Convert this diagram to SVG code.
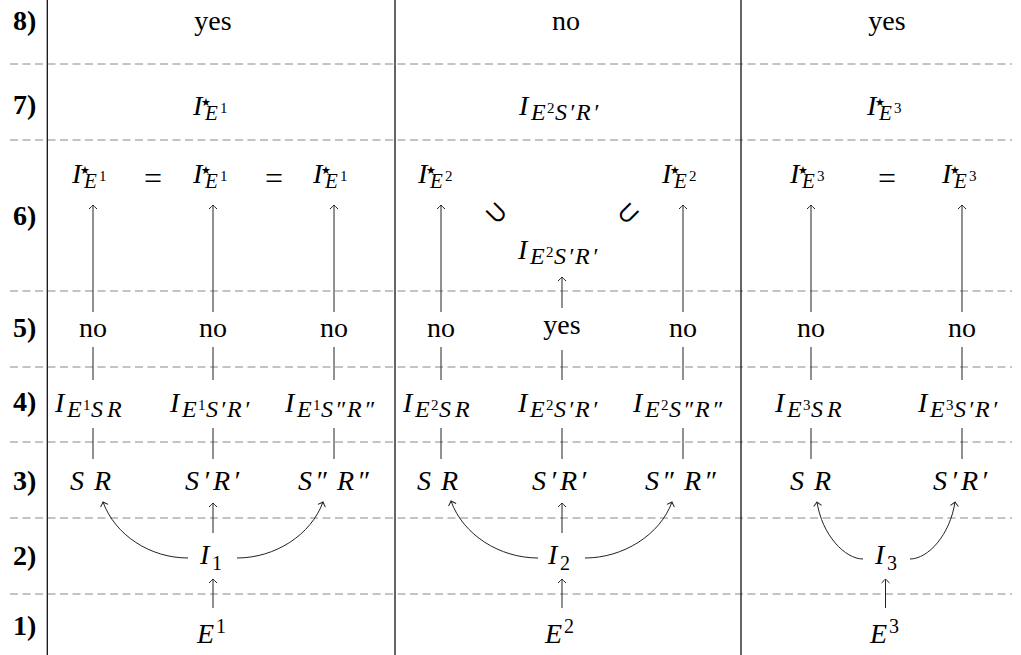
<svg xmlns="http://www.w3.org/2000/svg" width="1021" height="655" viewBox="0 0 1021 655">
<style>
.lbl{font-family:"Liberation Serif",serif;font-weight:bold;font-size:28px}
.t{font-family:"Liberation Serif",serif;font-size:28px;text-anchor:middle}
.m{font-family:"Liberation Serif",serif;font-style:italic;font-size:28px}
.s{font-size:24px}
.s2{font-size:21px}
.ss{font-size:15px;font-style:normal}
.sp{font-size:20px;font-style:normal}
.st{font-family:"DejaVu Sans",sans-serif;font-style:normal;font-size:11px}
.eq{font-family:"Liberation Serif",serif;font-size:32px;text-anchor:middle}
.sub{font-family:"DejaVu Sans",sans-serif;font-weight:200;font-size:28px;text-anchor:middle;dominant-baseline:central}
.grid{stroke:#888;stroke-width:1;stroke-dasharray:8 4.5;fill:none}
.col{stroke:#111;stroke-width:1.3;fill:none}
.c{stroke:#222;stroke-width:1;fill:none}
.a{stroke:#222;stroke-width:1;fill:none;marker-end:url(#tip)}
</style>
<defs>
<marker id="tip" markerUnits="userSpaceOnUse" markerWidth="12" markerHeight="12" viewBox="-6 -6 12 12" refX="0" refY="0" orient="auto">
<path d="M-4,-4 Q-1.2,-1 0,0 Q-1.2,1 -4,4" fill="none" stroke="#222" stroke-width="1"/>
</marker>
</defs>
<rect width="1021" height="655" fill="#fff"/>
<g id="grid">
<line class="grid" x1="10" y1="64" x2="1012" y2="64"/>
<line class="grid" x1="10" y1="140" x2="1012" y2="140"/>
<line class="grid" x1="10" y1="291" x2="1012" y2="291"/>
<line class="grid" x1="10" y1="367" x2="1012" y2="367"/>
<line class="grid" x1="10" y1="442" x2="1012" y2="442"/>
<line class="grid" x1="10" y1="518" x2="1012" y2="518"/>
<line class="grid" x1="10" y1="594" x2="1012" y2="594"/>
<line class="col" x1="47.3" y1="0" x2="47.3" y2="655"/>
<line class="col" x1="395" y1="0" x2="395" y2="655"/>
<line class="col" x1="741" y1="0" x2="741" y2="655"/>
</g>
<g id="row-labels">
<text class="lbl" x="13" y="30">8)</text>
<text class="lbl" x="13" y="114">7)</text>
<text class="lbl" x="13" y="225">6)</text>
<text class="lbl" x="13" y="337">5)</text>
<text class="lbl" x="13" y="411">4)</text>
<text class="lbl" x="13" y="490">3)</text>
<text class="lbl" x="13" y="565">2)</text>
<text class="lbl" x="13" y="635">1)</text>
</g>
<g id="connectors">
<line class="a" x1="93" y1="312" x2="93" y2="205"/>
<line class="a" x1="213" y1="312" x2="213" y2="205"/>
<line class="a" x1="334" y1="312" x2="334" y2="205"/>
<line class="a" x1="441" y1="312" x2="441" y2="205"/>
<line class="a" x1="562" y1="308" x2="562" y2="277"/>
<line class="a" x1="683" y1="312" x2="683" y2="205"/>
<line class="a" x1="811" y1="312" x2="811" y2="205"/>
<line class="a" x1="962" y1="312" x2="962" y2="205"/>
<line class="c" x1="93" y1="347" x2="93" y2="380"/>
<line class="c" x1="213" y1="347" x2="213" y2="380"/>
<line class="c" x1="334" y1="347" x2="334" y2="380"/>
<line class="c" x1="441" y1="347" x2="441" y2="380"/>
<line class="c" x1="562" y1="350" x2="562" y2="380"/>
<line class="c" x1="683" y1="347" x2="683" y2="380"/>
<line class="c" x1="811" y1="347" x2="811" y2="380"/>
<line class="c" x1="962" y1="347" x2="962" y2="380"/>
<line class="c" x1="93" y1="428" x2="93" y2="459"/>
<line class="c" x1="213" y1="428" x2="213" y2="459"/>
<line class="c" x1="334" y1="428" x2="334" y2="459"/>
<line class="c" x1="441" y1="428" x2="441" y2="459"/>
<line class="c" x1="562" y1="428" x2="562" y2="459"/>
<line class="c" x1="683" y1="428" x2="683" y2="459"/>
<line class="c" x1="811" y1="428" x2="811" y2="459"/>
<line class="c" x1="962" y1="428" x2="962" y2="459"/>
<path class="a" d="M188,558 C150,558 115,535 103,502"/>
<line class="a" x1="213" y1="533" x2="213" y2="503"/>
<path class="a" d="M237,558 C275,558 311,535 323,502"/>
<path class="a" d="M538,558 C500,558 463,535 451,501"/>
<line class="a" x1="562" y1="533" x2="562" y2="503"/>
<path class="a" d="M585,558 C623,558 660,535 672,502"/>
<path class="a" d="M863,559 C845,559 822,535 817,502"/>
<path class="a" d="M910,559 C928,559 950,535 955,502"/>
<line class="a" x1="213" y1="608" x2="213" y2="579"/>
<line class="a" x1="562" y1="608" x2="562" y2="579"/>
<line class="a" x1="885.5" y1="608" x2="885.5" y2="579"/>
</g>
<g id="row8">
<text id="r8a" class="t" x="213" y="30">yes</text>
<text id="r8b" class="t" x="566" y="30">no</text>
<text id="r8c" class="t" x="887" y="30">yes</text>
</g>
<g id="row7">
<text id="r7a" class="m" x="193" y="115">I<tspan class="st" x="201" y="106">★</tspan><tspan class="s2" x="205" y="120">E</tspan><tspan class="ss" x="220" y="113">1</tspan></text>
<text id="r7b" class="m" x="519" y="115">I<tspan class="s" x="531" y="120">E</tspan><tspan class="ss" x="547" y="113">2</tspan><tspan class="s" x="555" y="120">S</tspan><tspan class="s" x="569" y="120">′</tspan><tspan class="s" x="576" y="120">R</tspan><tspan class="s" x="593" y="120">′</tspan></text>
<text id="r7c" class="m" x="867" y="115">I<tspan class="st" x="875" y="106">★</tspan><tspan class="s2" x="879" y="120">E</tspan><tspan class="ss" x="894" y="113">3</tspan></text>
</g>
<g id="row6">
<text id="r6a" class="m" x="72" y="183">I<tspan class="st" x="80" y="174">★</tspan><tspan class="s2" x="84" y="188">E</tspan><tspan class="ss" x="99" y="181">1</tspan></text>
<text class="eq" x="153" y="189">=</text>
<text id="r6b" class="m" x="193" y="183">I<tspan class="st" x="201" y="174">★</tspan><tspan class="s2" x="205" y="188">E</tspan><tspan class="ss" x="220" y="181">1</tspan></text>
<text class="eq" x="274" y="189">=</text>
<text id="r6c" class="m" x="313" y="183">I<tspan class="st" x="321" y="174">★</tspan><tspan class="s2" x="325" y="188">E</tspan><tspan class="ss" x="340" y="181">1</tspan></text>
<text id="r6d" class="m" x="418" y="183">I<tspan class="st" x="426" y="174">★</tspan><tspan class="s2" x="430" y="188">E</tspan><tspan class="ss" x="445" y="181">2</tspan></text>
<text class="sub" x="497" y="212" transform="rotate(45 497 212)">⊃</text>
<text class="sub" x="627" y="213" transform="rotate(-45 627 213)">⊂</text>
<text id="r6e" class="m" x="518" y="259">I<tspan class="s" x="530" y="264">E</tspan><tspan class="ss" x="546" y="257">2</tspan><tspan class="s" x="554" y="264">S</tspan><tspan class="s" x="568" y="264">′</tspan><tspan class="s" x="575" y="264">R</tspan><tspan class="s" x="592" y="264">′</tspan></text>
<text id="r6f" class="m" x="662" y="183">I<tspan class="st" x="670" y="174">★</tspan><tspan class="s2" x="674" y="188">E</tspan><tspan class="ss" x="689" y="181">2</tspan></text>
<text id="r6g" class="m" x="790" y="183">I<tspan class="st" x="798" y="174">★</tspan><tspan class="s2" x="802" y="188">E</tspan><tspan class="ss" x="817" y="181">3</tspan></text>
<text class="eq" x="887" y="189">=</text>
<text id="r6h" class="m" x="942" y="183">I<tspan class="st" x="950" y="174">★</tspan><tspan class="s2" x="954" y="188">E</tspan><tspan class="ss" x="969" y="181">3</tspan></text>
</g>
<g id="row5">
<text class="t" x="93" y="337">no</text>
<text class="t" x="213" y="337">no</text>
<text class="t" x="334" y="337">no</text>
<text class="t" x="441" y="337">no</text>
<text class="t" x="562" y="334">yes</text>
<text class="t" x="683" y="337">no</text>
<text class="t" x="811" y="337">no</text>
<text class="t" x="962" y="337">no</text>
</g>
<g id="row4">
<text id="r4a" class="m" x="55" y="412">I<tspan class="s" x="67" y="417">E</tspan><tspan class="ss" x="83" y="410">1</tspan><tspan class="s" x="91" y="417">S</tspan><tspan class="s" x="107" y="417">R</tspan></text>
<text id="r4b" class="m" x="170" y="412">I<tspan class="s" x="182" y="417">E</tspan><tspan class="ss" x="198" y="410">1</tspan><tspan class="s" x="206" y="417">S</tspan><tspan class="s" x="220" y="417">′</tspan><tspan class="s" x="227" y="417">R</tspan><tspan class="s" x="244" y="417">′</tspan></text>
<text id="r4c" class="m" x="285" y="412">I<tspan class="s" x="297" y="417">E</tspan><tspan class="ss" x="313" y="410">1</tspan><tspan class="s" x="321" y="417">S</tspan><tspan class="s" x="335" y="417">″</tspan><tspan class="s" x="347" y="417">R</tspan><tspan class="s" x="364" y="417">″</tspan></text>
<text id="r4d" class="m" x="403" y="412">I<tspan class="s" x="415" y="417">E</tspan><tspan class="ss" x="431" y="410">2</tspan><tspan class="s" x="439" y="417">S</tspan><tspan class="s" x="455" y="417">R</tspan></text>
<text id="r4e" class="m" x="518" y="412">I<tspan class="s" x="530" y="417">E</tspan><tspan class="ss" x="546" y="410">2</tspan><tspan class="s" x="554" y="417">S</tspan><tspan class="s" x="568" y="417">′</tspan><tspan class="s" x="575" y="417">R</tspan><tspan class="s" x="592" y="417">′</tspan></text>
<text id="r4f" class="m" x="633" y="412">I<tspan class="s" x="645" y="417">E</tspan><tspan class="ss" x="661" y="410">2</tspan><tspan class="s" x="669" y="417">S</tspan><tspan class="s" x="683" y="417">″</tspan><tspan class="s" x="695" y="417">R</tspan><tspan class="s" x="712" y="417">″</tspan></text>
<text id="r4g" class="m" x="775" y="412">I<tspan class="s" x="787" y="417">E</tspan><tspan class="ss" x="803" y="410">3</tspan><tspan class="s" x="811" y="417">S</tspan><tspan class="s" x="827" y="417">R</tspan></text>
<text id="r4h" class="m" x="918" y="412">I<tspan class="s" x="930" y="417">E</tspan><tspan class="ss" x="946" y="410">3</tspan><tspan class="s" x="954" y="417">S</tspan><tspan class="s" x="968" y="417">′</tspan><tspan class="s" x="975" y="417">R</tspan><tspan class="s" x="992" y="417">′</tspan></text>
</g>
<g id="row3">
<text id="r3a" class="m" x="70" y="490">S<tspan x="94">R</tspan></text>
<text id="r3b" class="m" x="185" y="490">S<tspan x="203">′</tspan><tspan x="213">R</tspan><tspan x="233">′</tspan></text>
<text id="r3c" class="m" x="298" y="490">S<tspan x="315">″</tspan><tspan x="337">R</tspan><tspan x="357">″</tspan></text>
<text id="r3d" class="m" x="417" y="490">S<tspan x="441">R</tspan></text>
<text id="r3e" class="m" x="532" y="490">S<tspan x="550">′</tspan><tspan x="560">R</tspan><tspan x="580">′</tspan></text>
<text id="r3f" class="m" x="645" y="490">S<tspan x="662">″</tspan><tspan x="684">R</tspan><tspan x="704">″</tspan></text>
<text id="r3g" class="m" x="790" y="490">S<tspan x="814">R</tspan></text>
<text id="r3h" class="m" x="933" y="490">S<tspan x="951">′</tspan><tspan x="961">R</tspan><tspan x="981">′</tspan></text>
</g>
<g id="row2">
<text id="i1" class="m" x="200" y="564">I<tspan class="sp" x="212" y="570">1</tspan></text>
<text id="i2" class="m" x="548" y="564">I<tspan class="sp" x="560" y="570">2</tspan></text>
<text id="i3" class="m" x="875" y="564">I<tspan class="sp" x="887" y="570">3</tspan></text>
</g>
<g id="row1">
<text id="e1" class="m" x="197" y="643">E<tspan class="sp" x="216" y="633">1</tspan></text>
<text id="e2" class="m" x="545" y="643">E<tspan class="sp" x="564" y="633">2</tspan></text>
<text id="e3" class="m" x="870" y="643">E<tspan class="sp" x="889" y="633">3</tspan></text>
</g>
</svg>
